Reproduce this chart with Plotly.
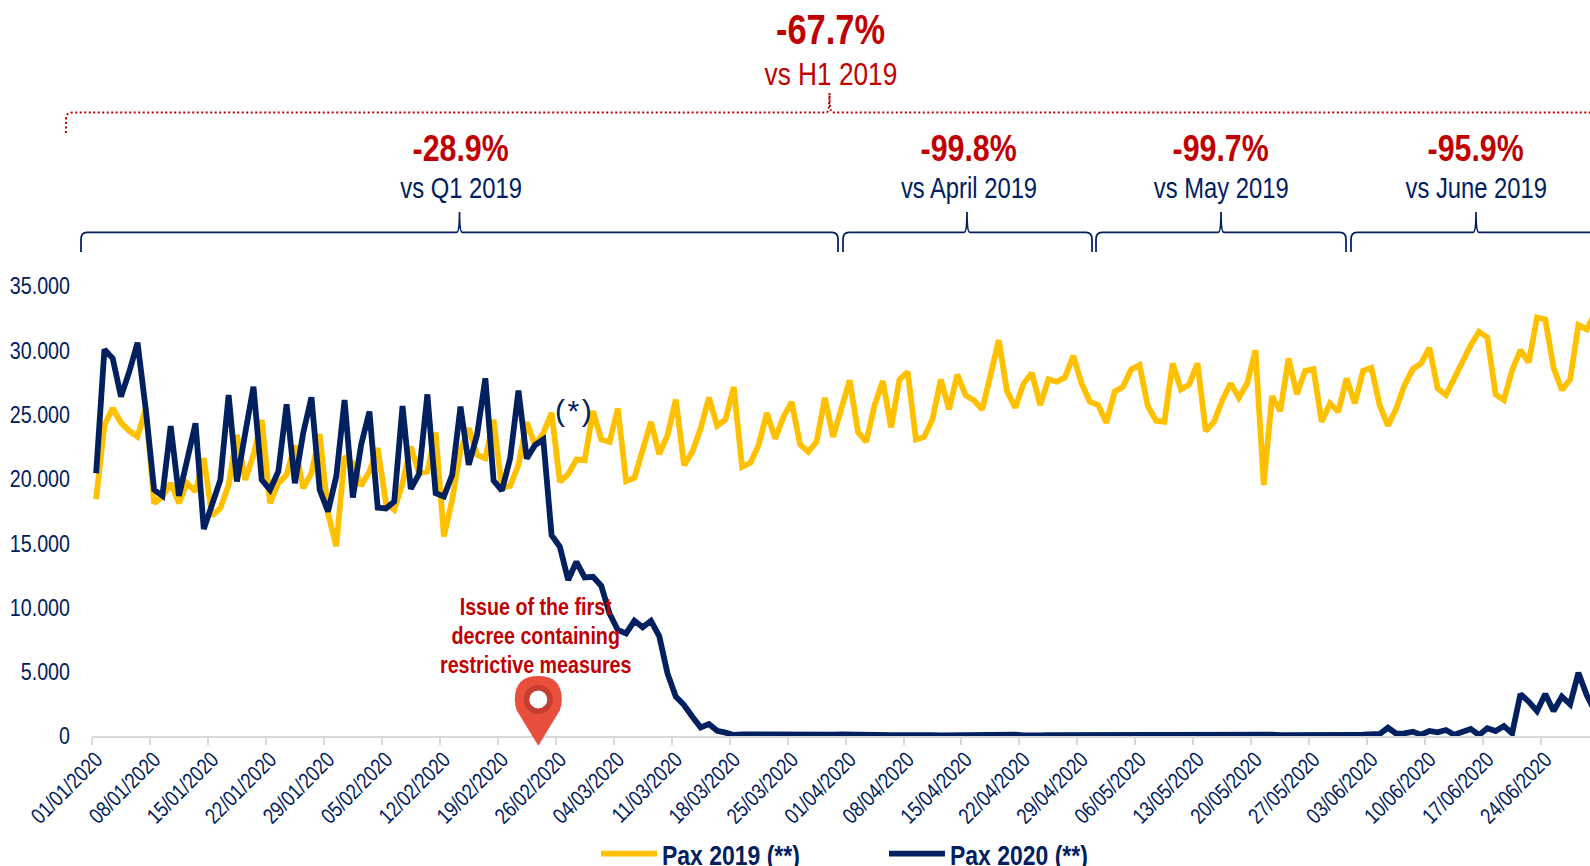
import datetime as dt
import plotly.graph_objects as go

W, H = 1590, 866
NAVY, GOLD, RED = "#002060", "#FFC000", "#C00000"
FONT = "Liberation Sans, Arial, sans-serif"

dates = [(dt.date(2020, 1, 1) + dt.timedelta(days=i)).strftime("%d/%m/%Y") for i in range(182)]

pax_2019 = [
    18420, 24190, 25490, 24370, 23730, 23290, 25490, 18110, 18630, 19660, 18110, 19660, 19020, 21600, 17130,
    17720, 19530, 23420, 19920, 21860, 24580, 18110, 19660, 20310, 22590, 19280, 20440, 23490, 17330, 14750,
    21730, 21220, 19460, 20570, 22380, 18110, 17590, 19660, 22510, 20440, 20570, 23600, 15520, 18370, 22250,
    23930, 21860, 21600, 24580, 19280, 19460, 21090, 24400, 22640, 23550, 25130, 19770, 20360, 21500, 21450,
    25280, 23060, 22880, 25470, 19820, 20080, 22230, 24430, 21920, 23390, 26170, 21060, 22100, 23910, 26320,
    24120, 24610, 27150, 20930, 21240, 22620, 25130, 23130, 24820, 25980, 22690, 22100, 22880, 26300, 23260,
    25470, 27670, 23650, 22880, 25730, 27620, 23990, 27720, 28320, 23060, 23260, 24640, 27720, 25410, 28110,
    26500, 26110, 25390, 28060, 30780, 26810, 25540, 27410, 28240, 25738, 27734, 27553, 27890, 29574, 27423,
    25997, 25738, 24365, 26775, 27164, 28512, 28849, 25660, 24520, 24442, 28978, 26957, 27345, 28978, 23716,
    24442, 26127, 27423, 26309, 27423, 30015, 19517, 26438, 25272, 29367, 26568, 28408, 28538, 24442, 25868,
    25220, 27812, 25868, 28408, 28641, 25738, 24131, 25479, 27293, 28538, 28978, 30196, 27034, 26516, 27812,
    29108, 30404, 31441, 31000, 26568, 26127, 28460, 30015, 29056, 32555, 32400, 28641, 26905, 27734, 31959,
    31622, 32866,
]

pax_2020 = [
    20440, 30070, 29370, 26390, 28330, 30590, 25360, 19150, 18680, 24110, 18680, 21470, 24320, 16090, 18110,
    19920, 26520, 19790, 23550, 27170, 19920, 19150, 20570, 25800, 19660, 23550, 26340, 19150, 17460, 20180,
    26130, 18550, 22640, 25230, 17770, 17700, 18240, 25670, 19220, 20390, 26570, 18890, 18630, 20310, 25620,
    21090, 23420, 27820, 19870, 19090, 21600, 26860, 21580, 22620, 23060, 15620, 14720, 12130, 13550, 12330,
    12380, 11680, 9530, 8240, 7980, 8960, 8450, 8960, 7770, 4870, 3060, 2410, 1500, 670, 930,
    410, 260, 80, 120, 110, 90, 80, 90, 110, 100, 130, 100, 90, 90, 100,
    130, 100, 90, 80, 70, 80, 60, 70, 90, 70, 60, 70, 50, 60, 70,
    100, 60, 110, 50, 120, 60, 100, 40, 90, 50, 70, 80, 90, 80, 70,
    80, 90, 80, 70, 80, 90, 70, 80, 90, 80, 90, 100, 80, 70, 90,
    80, 70, 90, 80, 90, 100, 90, 110, 70, 60, 80, 90, 70, 80, 60,
    70, 80, 90, 100, 130, 155, 648, 180, 207, 337,
    104, 389, 285, 467, 104, 285, 544, 78, 596, 389, 778, 207, 3266, 2670, 1944,
    3266, 1944, 3059, 2462, 4925, 3188, 1900,
]

LEFT, RIGHT, TOP, BOTTOM = 92, 1590, 286, 736
px = lambda x: (x - LEFT) / (RIGHT - LEFT)
py = lambda y: (BOTTOM - y) / (BOTTOM - TOP)


def path(points_cmds):
    out = []
    for c, pts in points_cmds:
        out.append(c + " ".join(f"{px(x):.5f},{py(y):.5f}" for x, y in pts))
    return " ".join(out)


def bracket(x0, x1, tip, ytop, ybot, ytip):
    return path([
        ("M", [(x0, ybot)]),
        ("L", [(x0, ytop + 7)]),
        ("Q", [(x0, ytop), (x0 + 6, ytop)]),
        ("L", [(tip - 3, ytop)]),
        ("Q", [(tip, ytop), (tip, ytip)]),
        ("Q", [(tip, ytop), (tip + 3, ytop)]),
        ("L", [(x1 - 6, ytop)]),
        ("Q", [(x1, ytop), (x1, ytop + 7)]),
        ("L", [(x1, ybot)]),
    ])


shapes = []
for x0, x1, tip in [(81, 838, 459.5), (843, 1092, 967), (1096, 1346, 1221), (1351, 1640, 1476)]:
    shapes.append(dict(type="path", xref="paper", yref="paper", path=bracket(x0, x1, tip, 232.5, 252, 212),
                       line=dict(color=NAVY, width=1.75)))
shapes.append(dict(type="path", xref="paper", yref="paper", path=bracket(66, 1700, 829.5, 112.5, 133, 93),
                   line=dict(color=RED, width=2, dash="2px,2.5px")))

pcx, pcy, pr, ptip = 538.3, 699.5, 23.5, 745.7
shapes.append(dict(type="path", xref="paper", yref="paper", line=dict(width=0), fillcolor="#E94F3D",
                   path=path([("M", [(pcx, ptip)]),
                              ("L", [(pcx - pr + 2, pcy + 11)]),
                              ("Q", [(pcx - pr, pcy + 6), (pcx - pr, pcy)]),
                              ("Q", [(pcx - pr, pcy - pr), (pcx, pcy - pr)]),
                              ("Q", [(pcx + pr, pcy - pr), (pcx + pr, pcy)]),
                              ("Q", [(pcx + pr, pcy + 6), (pcx + pr - 2, pcy + 11)]),
                              ("Z", [])])))
for r, col in [(14.5, "#C53D30"), (9, "#FFFFFF")]:
    shapes.append(dict(type="circle", xref="paper", yref="paper", line=dict(width=0), fillcolor=col,
                       x0=px(pcx - r), x1=px(pcx + r), y0=py(pcy + r), y1=py(pcy - r)))


def note(text, x, y, size, color, bold=False):
    return dict(text=text, x=px(x), y=py(y), xref="paper", yref="paper", showarrow=False,
                xanchor="center", yanchor="middle", align="center",
                font=dict(family=FONT, size=size, color=color, weight="bold" if bold else "normal"))


annotations = [
    note("-67.7%", 830.5, 29.5, 42, RED, True),
    note("vs H1 2019", 831, 74, 32, RED),
    note("-28.9%", 460, 149, 37, RED, True),
    note("vs Q1 2019", 460.5, 187.5, 29, NAVY),
    note("-99.8%", 968.5, 149, 37, RED, True),
    note("vs April 2019", 969, 187.5, 29, NAVY),
    note("-99.7%", 1220.5, 149, 37, RED, True),
    note("vs May 2019", 1220.5, 187.5, 29, NAVY),
    note("-95.9%", 1475.5, 149, 37, RED, True),
    note("vs June 2019", 1476, 187.5, 29, NAVY),
    note("(\u200a*\u200a)", 573, 410, 30, NAVY),
    note("Issue of the first", 535, 606.5, 24, RED, True),
    note("decree containing", 535, 635, 24, RED, True),
    note("restrictive measures", 535, 664, 24, RED, True),
]

fig = go.Figure()
fig.add_trace(go.Scatter(x=dates, y=pax_2019, mode="lines", name="Pax 2019 (**)",
                         line=dict(color=GOLD, width=5.8)))
fig.add_trace(go.Scatter(x=dates, y=pax_2020, mode="lines", name="Pax 2020 (**)",
                         line=dict(color=NAVY, width=5.8)))

fig.update_layout(
    width=W, height=H, paper_bgcolor="white", plot_bgcolor="white", separators=",.",
    margin=dict(l=LEFT, r=W - RIGHT, t=TOP, b=H - BOTTOM, pad=0, autoexpand=False),
    font=dict(family=FONT, color=NAVY),
    shapes=shapes, annotations=annotations,
    legend=dict(orientation="h", x=px(596), xanchor="left", y=py(829), yanchor="top",
                font=dict(family=FONT, size=28, color=NAVY, weight="bold"),
                itemwidth=56, entrywidth=217, entrywidthmode="pixels", bgcolor="rgba(0,0,0,0)"),
    xaxis=dict(type="category", categoryorder="array", categoryarray=dates, range=[-0.5, 180.4],
               dtick=7, tick0=0, tickson="boundaries", tickangle=-45, ticks="outside", ticklen=7, tickwidth=2,
               tickcolor="#D9D9D9", showline=True, linecolor="#D9D9D9", linewidth=2, showgrid=False,
               zeroline=False, tickfont=dict(family=FONT, size=22, color=NAVY)),
    yaxis=dict(range=[0, 35000], dtick=5000, tickformat=",d", showgrid=False, zeroline=False, showline=False,
               ticks="", ticklabelstandoff=21, tickfont=dict(family=FONT, size=24, color=NAVY)),
)

# Liberation Sans Narrow is not installed, so the glyphs are condensed in place; text stays real text.
CONDENSE = """
document.body.style.margin='0';document.body.style.overflow='hidden';
function condense(){
  document.querySelectorAll('.main-svg text').forEach(function(t){
    if(t.textContent.trim().charAt(0)==='(') return;
    var lines=t.querySelectorAll('tspan.line');
    var items=lines.length?lines:[t];
    items.forEach(function(e){
      if(e.getAttribute('textLength')) return;
      e.setAttribute('textLength',(e.getComputedTextLength()*0.82).toFixed(2));
      e.setAttribute('lengthAdjust','spacingAndGlyphs');
    });
  });
}
condense();
"""
fig.write_html("out.html", post_script=CONDENSE, config=dict(displayModeBar=False))
